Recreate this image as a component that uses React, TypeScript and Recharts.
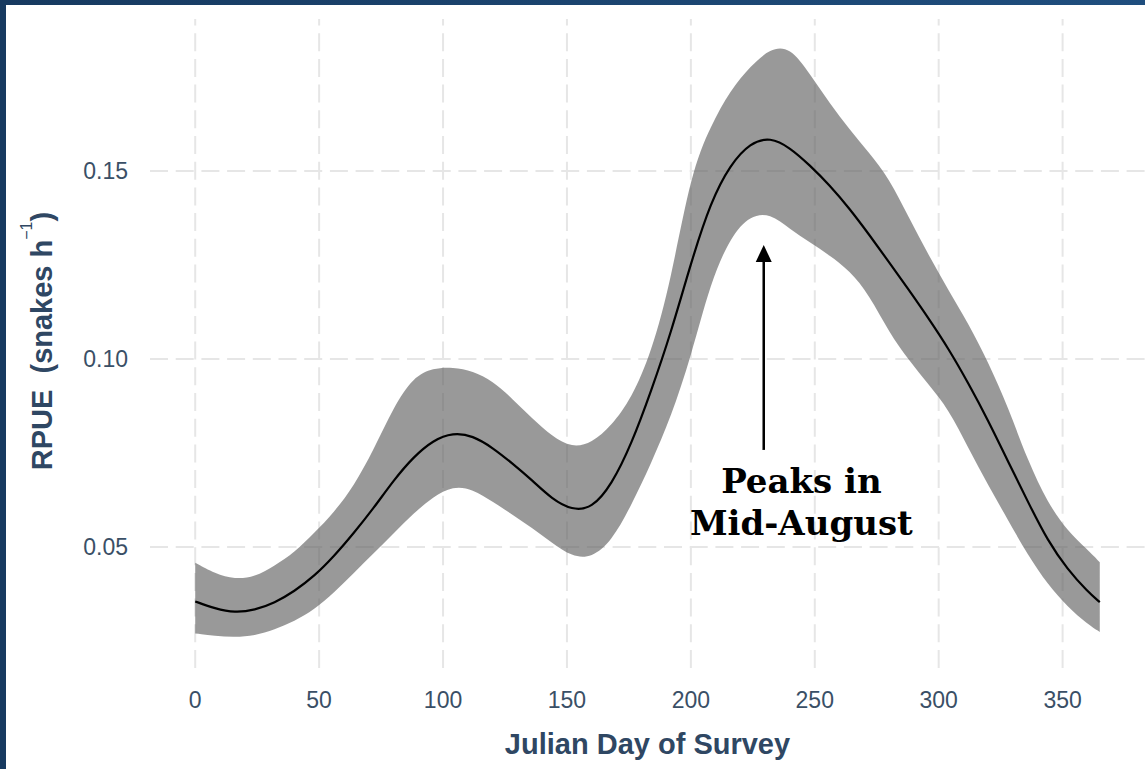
import React from "react";
import {
  ComposedChart,
  Area,
  Line,
  XAxis,
  YAxis,
  CartesianGrid,
  ReferenceLine,
  ReferenceDot,
} from "recharts";

// Julian day vs. RPUE (smoothed fit with confidence band)
const DAYS = [
  0, 8, 16, 24, 32, 40, 48, 56, 64, 72, 80, 88, 96, 104, 112, 120, 128, 136,
  144, 152, 160, 168, 176, 184, 192, 200, 208, 216, 224, 232, 240, 248, 256,
  264, 272, 280, 288, 296, 304, 312, 320, 328, 336, 344, 352, 360, 365,
];

const MEAN = [
  0.0355, 0.0336, 0.0325, 0.0332, 0.0351, 0.0382, 0.0422, 0.0475, 0.0537,
  0.0603, 0.0677, 0.0739, 0.0784, 0.0804, 0.0796, 0.0764, 0.0722, 0.0677,
  0.0627, 0.0598, 0.0602, 0.0665, 0.0773, 0.0915, 0.107, 0.1255, 0.1418,
  0.1518, 0.1575, 0.159, 0.1562, 0.1515, 0.1462, 0.14, 0.133, 0.1257,
  0.1183, 0.1107, 0.1027, 0.0935, 0.0836, 0.0727, 0.062, 0.0516, 0.044,
  0.0382, 0.0353,
];

const LOWER = [
  0.027, 0.0263, 0.026, 0.0264, 0.028, 0.0302, 0.0333, 0.0378, 0.0431,
  0.0483, 0.0536, 0.0589, 0.0633, 0.0662, 0.0654, 0.062, 0.0586, 0.055,
  0.0511, 0.0474, 0.0471, 0.0515, 0.0611, 0.0723, 0.0846, 0.1005, 0.1205,
  0.1325, 0.1382, 0.1387, 0.1345, 0.131, 0.1275, 0.1235, 0.117, 0.107,
  0.0996, 0.0931, 0.0866, 0.0762, 0.0664, 0.0571, 0.0478, 0.04, 0.0341,
  0.0295, 0.0274,
];

const UPPER = [
  0.0458, 0.0429, 0.0414, 0.042, 0.045, 0.0485, 0.0537, 0.0592, 0.0662,
  0.0758, 0.0872, 0.0952, 0.0976, 0.0978, 0.0968, 0.0941, 0.0894, 0.0841,
  0.0794, 0.0764, 0.0776, 0.0823, 0.0895, 0.1015, 0.121, 0.1494, 0.162,
  0.1715, 0.1778, 0.1826, 0.183, 0.1758, 0.168, 0.161, 0.1548, 0.148,
  0.1375, 0.1275, 0.1182, 0.1094, 0.0991, 0.0872, 0.0728, 0.0617, 0.0542,
  0.0493, 0.0459,
];

const X_TICKS = [0, 50, 100, 150, 200, 250, 300, 350];
const Y_TICKS = [0.05, 0.1, 0.15];

const data = DAYS.map((day, i) => ({
  day,
  mean: MEAN[i],
  band: [LOWER[i], UPPER[i]],
}));

const TITLE_COLOR = "#2f4763";
const TICK_COLOR = "#3a4f66";
const GRID_COLOR = "#e6e6e6";

// only tick lines, not the plot border; vertical ones drawn bottom -> top like ggplot
function VLine(props: any) {
  if (props.x1 < 152 || props.x1 > 1143) return <g key={`v-${props.x1}`} />;
  return (
    <line
      key={`v-${props.x1}`}
      x1={props.x1}
      y1={props.y2}
      x2={props.x2}
      y2={props.y1}
      stroke={GRID_COLOR}
      strokeWidth={2}
      strokeDasharray="18 7.7"
    />
  );
}

function HLine(props: any) {
  if (props.y1 < 21 || props.y1 > 666) return <g key={`h-${props.y1}`} />;
  return (
    <line
      key={`h-${props.y1}`}
      x1={props.x1}
      y1={props.y1}
      x2={props.x2}
      y2={props.y2}
      stroke={GRID_COLOR}
      strokeWidth={2}
      strokeDasharray="18 7.7"
    />
  );
}

function YTitle() {
  return (
    <text
      transform="rotate(-90, 52, 341)"
      x={52}
      y={341}
      textAnchor="middle"
      fontSize={29}
      fontWeight="bold"
      fill={TITLE_COLOR}
      style={{ whiteSpace: "pre" }}
    >
      {"RPUE  (snakes h"}
      <tspan dy={-20} fontSize={16} fontWeight="normal">
        −1
      </tspan>
      <tspan dy={20}>)</tspan>
    </text>
  );
}

function XTitle(props: any) {
  const vb = props.viewBox || { x: 150, y: 668, width: 995 };
  return (
    <text
      x={vb.x + vb.width / 2}
      y={754}
      textAnchor="middle"
      fontSize={29}
      fontWeight="bold"
      fill={TITLE_COLOR}
    >
      Julian Day of Survey
    </text>
  );
}

function ArrowHead(props: any) {
  const { cx, cy } = props;
  return (
    <polygon
      points={`${cx},${cy} ${cx - 8},${cy + 17} ${cx + 8},${cy + 17}`}
      fill="#000"
    />
  );
}

function PeakNote(props: any) {
  const { cx, cy } = props;
  return (
    <text
      x={cx}
      y={cy}
      textAnchor="middle"
      fontFamily="'DejaVu Serif', serif"
      fontWeight="bold"
      fontSize={34}
      fill="#000"
    >
      <tspan x={cx} dy={0}>
        Peaks in
      </tspan>
      <tspan x={cx} dy={42}>
        Mid-August
      </tspan>
    </text>
  );
}

export default function App() {
  return (
    <div
      style={{
        position: "absolute",
        left: 0,
        top: 0,
        width: 1145,
        height: 769,
        background: "#fff",
        fontFamily: "'Liberation Sans', Arial, sans-serif",
        overflow: "hidden",
      }}
    >
      <ComposedChart
        width={1145}
        height={769}
        data={data}
        margin={{ top: 19, right: 0, left: 0, bottom: 61 }}
      >
        <CartesianGrid vertical={VLine} horizontal={HLine} />
        <XAxis
          type="number"
          dataKey="day"
          domain={[-18.25, 383.25]}
          ticks={X_TICKS}
          axisLine={false}
          tickLine={false}
          tickMargin={18}
          height={40}
          tick={{ fontSize: 23, fill: TICK_COLOR }}
          allowDataOverflow
          label={<XTitle />}
        />
        <YAxis
          type="number"
          domain={[0.0178, 0.1904]}
          ticks={Y_TICKS}
          axisLine={false}
          tickLine={false}
          tickMargin={16}
          width={150}
          tick={{ fontSize: 23, fill: TICK_COLOR }}
          tickFormatter={(v: number) => v.toFixed(2)}
          allowDataOverflow
          label={<YTitle />}
        />
        <Area
          type="basis"
          dataKey="band"
          stroke="none"
          fill="#5a5a5a"
          fillOpacity={0.62}
          isAnimationActive={false}
          activeDot={false}
        />
        <Line
          type="basis"
          dataKey="mean"
          stroke="#000"
          strokeWidth={2.2}
          dot={false}
          activeDot={false}
          isAnimationActive={false}
        />
        <ReferenceLine
          segment={[
            { x: 229.4, y: 0.0758 },
            { x: 229.4, y: 0.127 },
          ]}
          stroke="#000"
          strokeWidth={2.5}
        />
        <ReferenceDot x={229.4} y={0.1303} r={8} shape={ArrowHead} />
        <ReferenceDot x={244.6} y={0.0644} r={1} shape={PeakNote} />
      </ComposedChart>
      <div
        style={{
          position: "absolute",
          left: 0,
          top: 0,
          width: 1145,
          height: 5,
          background: "linear-gradient(90deg, #173a60, #1f4e7e)",
        }}
      />
      <div
        style={{
          position: "absolute",
          left: 0,
          top: 0,
          width: 6,
          height: 769,
          background: "#173a60",
        }}
      />
    </div>
  );
}
